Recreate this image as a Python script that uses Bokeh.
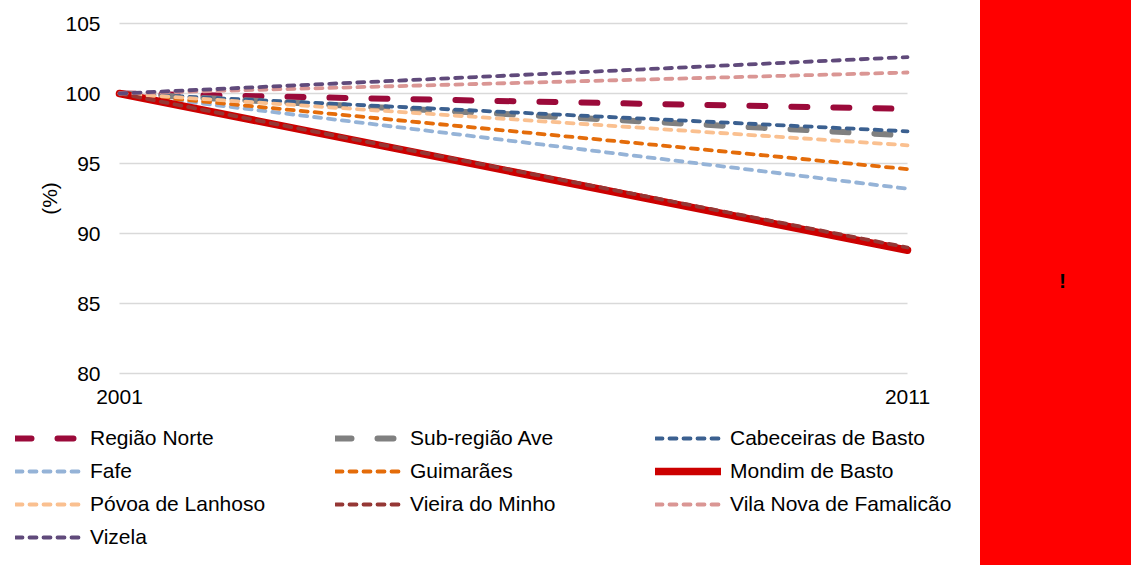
from bokeh.plotting import figure
from bokeh.models import Legend, LegendItem, FixedTicker, Range1d, Div
from bokeh.layouts import row
from bokeh.embed import file_html
from bokeh.resources import INLINE

# ---------------- data ----------------
years = [2001, 2011]
year_labels = ["2001", "2011"]
regiao_norte = [100.0, 98.9]
sub_regiao_ave = [100.0, 97.0]
cabeceiras_de_basto = [100.0, 97.3]
fafe = [100.0, 93.2]
guimaraes = [100.0, 94.6]
mondim_de_basto = [100.0, 88.8]
povoa_de_lanhoso = [100.0, 96.3]
vieira_do_minho = [100.0, 89.0]
vila_nova_de_famalicao = [100.0, 101.5]
vizela = [100.0, 102.6]
y_ticks = [80, 85, 90, 95, 100, 105]

FONT = "Liberation Sans"
FS = "21px"

# name, values, color, width, dash
series = [
    ("Região Norte", regiao_norte, "#9B0A3A", 6, "16 26"),
    ("Sub-região Ave", sub_regiao_ave, "#808080", 6, "16 26"),
    ("Cabeceiras de Basto", cabeceiras_de_basto, "#3B6090", 3.8, "7 7"),
    ("Fafe", fafe, "#95B3D7", 3.8, "7 7"),
    ("Guimarães", guimaraes, "#E46C0A", 3.8, "7 7"),
    ("Mondim de Basto", mondim_de_basto, "#CC0000", 7.5, "solid"),
    ("Póvoa de Lanhoso", povoa_de_lanhoso, "#FAC090", 3.8, "7 7"),
    ("Vieira do Minho", vieira_do_minho, "#953735", 3.8, "7 7"),
    ("Vila Nova de Famalicão", vila_nova_de_famalicao, "#DA9694", 3.8, "7 7"),
    ("Vizela", vizela, "#604A7B", 3.8, "7 7"),
]

# ---------------- layout (pixels) ----------------
W, H = 980, 565
PLOT_L, PLOT_R = 119, 907      # canvas x of first / last year
PLOT_T, PLOT_B = 23, 373       # canvas y of top / bottom tick
x0, x1 = years[0], years[-1]
y0, y1 = y_ticks[0], y_ticks[-1]
sx = (PLOT_R - PLOT_L) / (x1 - x0)
sy = (PLOT_B - PLOT_T) / (y1 - y0)
xr = Range1d(x0 - PLOT_L / sx, x1 + (W - PLOT_R) / sx)
yr = Range1d(y0 - (H - PLOT_B) / sy, y1 + PLOT_T / sy)

p = figure(width=W, height=H, x_range=xr, y_range=yr,
           toolbar_location=None, output_backend="svg", min_border=0)
p.outline_line_color = None
p.grid.visible = False

# horizontal gridlines at the y ticks, spanning the year extent
p.segment(x0=[x0] * len(y_ticks), x1=[x1] * len(y_ticks), y0=y_ticks, y1=y_ticks,
          line_color="#D9D9D9", line_width=1.5)

p.yaxis.ticker = FixedTicker(ticks=y_ticks)
p.xaxis.ticker = FixedTicker(ticks=years)
p.xaxis.major_label_overrides = {y: l for y, l in zip(years, year_labels)}
p.yaxis.fixed_location = x0
p.xaxis.fixed_location = y0
p.yaxis.bounds = (y0, y1)
p.xaxis.bounds = (x0, x1)
for ax in (p.xaxis[0], p.yaxis[0]):
    ax.axis_line_color = None
    ax.major_tick_line_color = None
    ax.minor_tick_line_color = None
    ax.major_tick_out = 0
    ax.major_tick_in = 0
    ax.minor_tick_out = 0
    ax.major_label_text_font = FONT
    ax.major_label_text_font_size = FS
    ax.major_label_text_color = "#000000"
p.yaxis.major_label_standoff = 19
p.xaxis.major_label_standoff = 16
p.yaxis.axis_label = "(%)"
p.yaxis.axis_label_text_font = FONT
p.yaxis.axis_label_text_font_size = FS
p.yaxis.axis_label_text_font_style = "normal"
p.yaxis.axis_label_text_color = "#000000"
p.yaxis.axis_label_standoff = 1

renderers = {}
for name, vals, color, w, dash in series:
    r = p.line(years, vals, line_color=color, line_width=w,
               line_dash=dash, line_cap="round")
    renderers[name] = r

columns = [
    (["Região Norte", "Fafe", "Póvoa de Lanhoso", "Vizela"], 15, 16),
    (["Sub-região Ave", "Guimarães", "Vieira do Minho"], 335, 49),
    (["Cabeceiras de Basto", "Mondim de Basto", "Vila Nova de Famalicão"], 655, 49),
]
for names, lx, ly in columns:
    leg = Legend(items=[LegendItem(label=n, renderers=[renderers[n]]) for n in names],
                 location=(lx, ly), orientation="vertical",
                 glyph_width=66, glyph_height=24, label_height=24,
                 label_standoff=9, spacing=9, padding=0, margin=0,
                 border_line_color=None, background_fill_alpha=0,
                 label_text_font=FONT, label_text_font_size=FS,
                 label_text_color="#000000")
    p.add_layout(leg, "center")

# red side panel
side = Div(text='<div style="position:absolute;left:79px;top:266px;'
                'font-family:Liberation Sans;font-size:21px;font-weight:bold;color:#000">!</div>',
           width=151, height=565, margin=0,
           styles={"background-color": "#FF0000", "position": "relative"})

layout = row(p, side, spacing=0)
open("out.html", "w").write(file_html(layout, INLINE))
